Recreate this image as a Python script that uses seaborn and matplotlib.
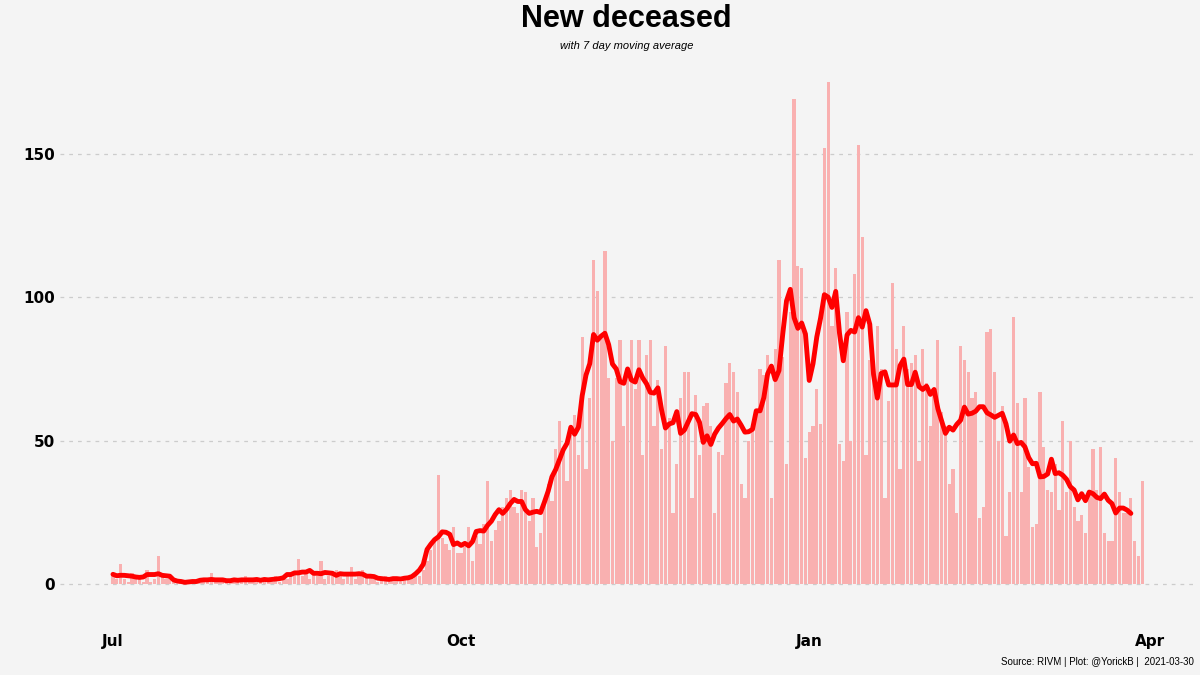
import numpy as np
import pandas as pd
import seaborn as sns
import matplotlib.pyplot as plt
import matplotlib.dates as mdates

# daily new deceased
jul = [3,2,7,2,1,4,3,2,1,5,1,2,10,3,2,3,1,0,1,1,0,1,1,2,1,1,4,1,1,2,1]
aug = [1,1,2,1,3,1,2,1,1,2,2,1,3,1,2,2,3,4,9,3,5,2,4,3,8,2,3,4,5,3,2]
sep = [3,6,2,4,5,3,3,2,1,2,3,1,2,2,1,3,2,2,3,3,5,8,12,16,38,16,14,12,20,11]
oct_ = [11,13,20,8,17,14,21,36,15,19,22,27,30,33,27,25,33,32,22,30,13,18,28,35,29,47,57,48,36,52,59]
nov = [45,86,40,65,113,102,87,116,72,50,72,85,55,75,85,68,85,45,80,85,55,71,47,83,58,25,42,65,74,74]
dec = [30,66,45,62,63,55,25,46,45,70,77,74,67,35,30,50,55,60,75,73,80,30,82,113,79,42,95,169,111,110,44]
jan = [53,55,68,56,152,175,90,110,49,43,95,50,108,153,121,45,78,72,90,75,30,64,105,82,40,90,75,77,80,43,82]
feb_mar = [70,55,68,85,60,55,35,40,
           25,83,78,74,65,67,23,27,88,89,74,50,62,17,32,93,63,32,65,41,20,21,67,48,33,32,42,26,57,32,50,27,
           22,24,18,33,47,33,48,18,15,15,44,32,25,25,30,15,10,36]

values = jul + aug + sep + oct_ + nov + dec + jan + feb_mar
dates = pd.date_range('2020-07-01', periods=len(values), freq='D')
df = pd.DataFrame({'date': dates, 'deceased': values})
df['ma'] = df['deceased'].rolling(7, center=True, min_periods=1).mean()
line = df.iloc[:-3]

sns.set_style('white')
bg = '#f4f4f4'
fig = plt.figure(figsize=(12, 6.75), dpi=100, facecolor=bg)
ax = fig.add_axes([0.05, 0.09, 0.946, 0.80], facecolor=bg)

ax.bar(df['date'], df['deceased'], width=0.85, color='#f9b0b0', linewidth=0, zorder=2)
sns.lineplot(data=line, x='date', y='ma', color='red', linewidth=3.5, ax=ax, zorder=3)

ax.set_ylim(-10.4, 177.6)
ax.set_xlim(pd.Timestamp('2020-06-17'), pd.Timestamp('2021-04-13'))
ax.set_yticks([0, 50, 100, 150])
ax.xaxis.set_major_locator(mdates.MonthLocator(bymonth=[1, 4, 7, 10]))
ax.xaxis.set_major_formatter(mdates.DateFormatter('%b'))
ax.yaxis.grid(True, linestyle=(0, (3, 4)), color='#cccccc', linewidth=0.9, zorder=0)
ax.xaxis.grid(False)
for s in ax.spines.values():
    s.set_visible(False)
ax.tick_params(length=0, labelsize=11, labelcolor='black')
for t in ax.get_xticklabels() + ax.get_yticklabels():
    t.set_fontweight('bold')
ax.tick_params(axis='x', pad=14)
ax.set_xlabel('')
ax.set_ylabel('')

fig.text(0.522, 0.972, 'New deceased', ha='center', va='center', fontsize=22, fontweight='bold',
         family='Liberation Sans', color='black')
fig.text(0.522, 0.932, 'with 7 day moving average', ha='center', va='center', fontsize=8,
         style='italic', family='Liberation Sans', color='black')
fig.text(0.995, 0.012, 'Source: RIVM | Plot: @YorickB |  2021-03-30', ha='right', va='bottom',
         fontsize=7, family='Liberation Sans', color='black')

fig.savefig('out.png', dpi=100, facecolor=bg)
